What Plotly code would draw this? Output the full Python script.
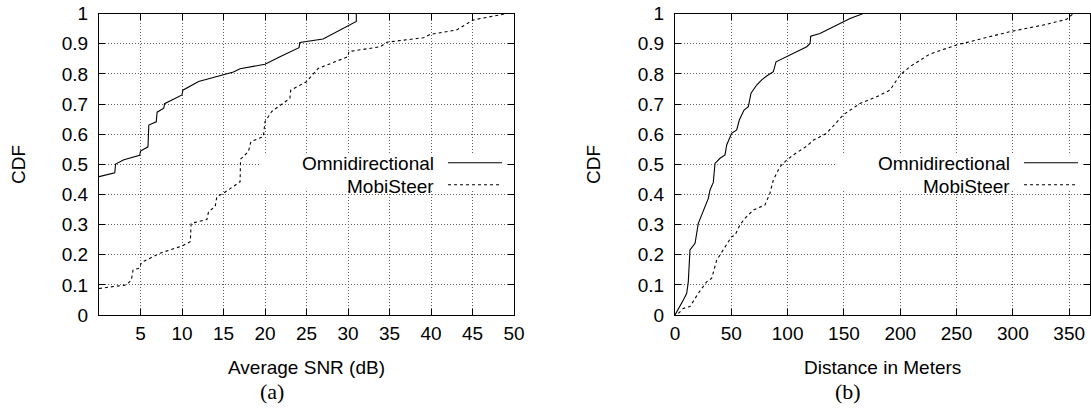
import plotly.graph_objects as go

W, H = 1091, 409

# ---------------- data ----------------
# Panel (a): CDF of average SNR (dB)
snr_omni_x = [0, 1.9, 2.0, 3.0, 4.9, 5.0, 5.9, 6.0, 6.9, 7.0, 7.8, 7.9, 10.0, 10.1,
              12.0, 16.2, 17.0, 20.0, 21.8, 24.1, 24.2, 27.0, 31.0, 31.0]
snr_omni_y = [0.459, 0.472, 0.501, 0.515, 0.530, 0.544, 0.558, 0.630, 0.641, 0.673,
              0.686, 0.701, 0.730, 0.746, 0.775, 0.806, 0.817, 0.832, 0.857, 0.887,
              0.904, 0.916, 0.974, 1.0]
snr_mobi_x = [0, 3.3, 3.9, 4.1, 4.9, 5.1, 7.35, 10.0, 11.0, 11.1, 13.0, 13.2, 14.0, 14.2,
              15.0, 16.2, 17.0, 17.05, 18.0, 18.3, 19.8, 20.0, 20.8, 21.6, 23.0, 23.1,
              25.0, 26.4, 30.0, 30.1, 33.9, 34.7, 39.1, 39.9, 43.1, 45.1, 47.1, 49.1]
snr_mobi_y = [0.088, 0.100, 0.116, 0.149, 0.156, 0.174, 0.205, 0.229, 0.243, 0.304,
              0.317, 0.343, 0.360, 0.393, 0.404, 0.426, 0.442, 0.517, 0.542, 0.575,
              0.592, 0.641, 0.675, 0.691, 0.719, 0.746, 0.774, 0.818, 0.857, 0.874,
              0.890, 0.905, 0.920, 0.931, 0.946, 0.979, 0.990, 1.0]

# Panel (b): CDF of distance in meters
dist_omni_x = [0, 4.4, 7.4, 10.4, 11.8, 13.3, 17.8, 20.7, 25.2, 29.6, 31.1, 34.0, 35.5,
               40, 44.4, 45.9, 50.3, 54.8, 57.1, 61.3, 65.1, 67.5, 72.5, 77, 81.4, 87.3,
               89.7, 99.2, 117, 119.9, 120.5, 128.7, 137.6, 149.4, 155.4, 167.2]
dist_omni_y = [0, 0.028, 0.05, 0.072, 0.11, 0.216, 0.238, 0.304, 0.343, 0.387, 0.415,
               0.440, 0.503, 0.52, 0.531, 0.564, 0.603, 0.614, 0.647, 0.680, 0.691,
               0.736, 0.763, 0.780, 0.793, 0.807, 0.840, 0.857, 0.890, 0.901, 0.925,
               0.934, 0.951, 0.973, 0.984, 1.0]
dist_mobi_x = [3.0, 7.4, 13.3, 20.7, 28.1, 32.6, 37, 42.9, 50.3, 53.3, 57.7, 62.2, 69.5,
               79.9, 84.3, 87.3, 93.2, 99.2, 105, 116.9, 122.8, 134.7, 149.4, 164.3,
               179.1, 190.9, 199.8, 208.6, 220.5, 226.4, 250.1, 267.8, 297.4, 327,
               347.7, 353.6]
dist_mobi_y = [0.005, 0.022, 0.028, 0.072, 0.110, 0.122, 0.182, 0.216, 0.260, 0.265,
               0.299, 0.321, 0.348, 0.365, 0.404, 0.448, 0.492, 0.514, 0.531, 0.560,
               0.580, 0.603, 0.664, 0.702, 0.724, 0.746, 0.796, 0.824, 0.852, 0.866,
               0.896, 0.912, 0.940, 0.962, 0.981, 1.0]

series_names = ["Omnidirectional", "MobiSteer"]
x_titles = ["Average SNR (dB)", "Distance in Meters"]
panel_labels = ["(a)", "(b)"]
y_title = "CDF"
x_ranges = [[0, 50], [0, 368.5]]
x_tickvals = [[5, 10, 15, 20, 25, 30, 35, 40, 45, 50],
              [0, 50, 100, 150, 200, 250, 300, 350]]
y_tickvals = [0, 0.1, 0.2, 0.3, 0.4, 0.5, 0.6, 0.7, 0.8, 0.9, 1.0]
y_ticktext = ["0", "0.1", "0.2", "0.3", "0.4", "0.5", "0.6", "0.7", "0.8", "0.9", "1"]

# ---------------- layout geometry (pixels) ----------------
plot_left = [99, 675]
plot_right = [514, 1090]
plot_top, plot_bottom = 13.6, 315

SANS = "Liberation Sans, Arial, sans-serif"
SERIF = "Liberation Serif, Times New Roman, serif"
FS = 19

fig = go.Figure()

panels = [
    (snr_omni_x, snr_omni_y, snr_mobi_x, snr_mobi_y),
    (dist_omni_x, dist_omni_y, dist_mobi_x, dist_mobi_y),
]

annotations = []
shapes = []
for i, (ox, oy, mx, my) in enumerate(panels):
    xa = "x" if i == 0 else "x2"
    ya = "y" if i == 0 else "y2"
    fig.add_trace(go.Scatter(x=ox, y=oy, mode="lines", name=series_names[0],
                             line=dict(color="black", width=1.1),
                             xaxis=xa, yaxis=ya, showlegend=False))
    fig.add_trace(go.Scatter(x=mx, y=my, mode="lines", name=series_names[1],
                             line=dict(color="black", width=1.1, dash="3px,3px"),
                             xaxis=xa, yaxis=ya, showlegend=False))

    axis_common = dict(showline=True, linecolor="black", linewidth=1.3, mirror="ticks",
                       ticks="inside", ticklen=6, tickwidth=1.2, tickcolor="black",
                       showgrid=True, gridcolor="#606060", gridwidth=1, griddash="1px,2px",
                       zeroline=False, automargin=False,
                       tickfont=dict(family=SANS, size=FS, color="black"))
    xkey = "xaxis" if i == 0 else "xaxis2"
    ykey = "yaxis" if i == 0 else "yaxis2"
    fig.update_layout({
        xkey: dict(domain=[plot_left[i] / W, plot_right[i] / W], range=x_ranges[i],
                   tickmode="array", tickvals=x_tickvals[i], anchor=ya,
                   ticklabelstandoff=1, **axis_common),
        ykey: dict(domain=[(H - plot_bottom) / H, (H - plot_top) / H], range=[0, 1],
                   tickmode="array", tickvals=y_tickvals, ticktext=y_ticktext, anchor=xa,
                   ticklabelstandoff=6, **axis_common),
    })

    xd = xa + " domain"
    yd = ya + " domain"
    cx = (plot_left[i] + plot_right[i]) / 2 / W
    # axis titles
    annotations.append(dict(text=x_titles[i], xref="paper", yref="paper", x=cx,
                            y=(H - 367) / H, xanchor="center", yanchor="middle",
                            showarrow=False, font=dict(family=SANS, size=FS, color="black")))
    ylab_x = [18, 593][i]
    annotations.append(dict(text=y_title, xref="paper", yref="paper", x=ylab_x / W,
                            y=(H - 165) / H, xanchor="center", yanchor="middle",
                            textangle=-90, showarrow=False,
                            font=dict(family=SANS, size=FS, color="black")))
    # panel label
    lab_x = [272, 848][i]
    annotations.append(dict(text=panel_labels[i], xref="paper", yref="paper", x=lab_x / W,
                            y=(H - 391) / H, xanchor="center", yanchor="middle",
                            showarrow=False, font=dict(family=SERIF, size=22, color="black")))
    # key: blank box over the grid, texts and samples
    shapes.append(dict(type="rect", xref=xd, yref=yd, x0=0.388, x1=0.982, y0=0.412, y1=0.534,
                       fillcolor="white", line=dict(width=0), layer="above"))
    for j, (name, yy, dash) in enumerate([(series_names[0], 0.501, "solid"),
                                          (series_names[1], 0.428, "3px,3px")]):
        annotations.append(dict(text=name, xref=xd, yref=yd, x=0.812, y=yy,
                                xanchor="right", yanchor="middle", showarrow=False,
                                font=dict(family=SANS, size=FS, color="black")))
        shapes.append(dict(type="line", xref=xd, yref=yd, x0=0.841, x1=0.971,
                           y0=yy + 0.004, y1=yy + 0.004,
                           line=dict(color="black", width=1.1, dash=dash), layer="above"))

fig.update_layout(width=W, height=H, margin=dict(l=0, r=0, t=0, b=0, autoexpand=False),
                  paper_bgcolor="white", plot_bgcolor="white",
                  annotations=annotations, shapes=shapes, showlegend=False)

page_css = ("document.documentElement.style.margin='0';"
            "document.documentElement.style.padding='0';"
            "document.documentElement.style.overflow='hidden';"
            "document.body.style.margin='0';"
            "document.body.style.padding='0';"
            "document.body.style.overflow='hidden';")

fig.write_html("out.html", post_script=page_css)
